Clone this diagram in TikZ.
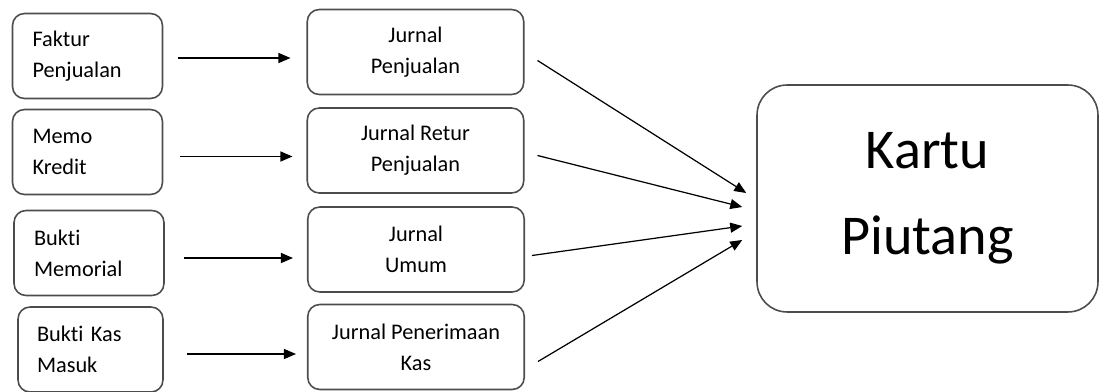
\documentclass[tikz,border=0pt]{standalone}
\usepackage{fontspec}
\setmainfont{Carlito}[RawFeature=-liga]
\usepackage{tikz}
\usetikzlibrary{positioning,arrows.meta}

\begin{document}
\begin{tikzpicture}[x=0.02cm,y=-0.02cm,
    docbox/.style={draw=black!70,line width=0.9pt,rounded corners=0.24cm,align=left,inner xsep=0.4cm,text width=2.2cm,minimum height=1.7cm,font=\fontsize{12.7}{17.6}\selectfont},
    jurnalbox/.style={draw=black!70,line width=0.9pt,rounded corners=0.24cm,align=center,minimum width=4.33cm,minimum height=1.7cm,font=\fontsize{12.7}{17.6}\selectfont}]
            \tikzstyle{arr}=[-{Triangle[length=0.24cm,width=0.2cm]},line width=0.7pt]
            \tikzstyle{kartubox}=[draw=black!70,line width=0.9pt,rounded corners=0.6cm,align=center,minimum width=6.82cm,minimum height=4.54cm,font=\fontsize{32}{48.8}\selectfont]
            \useasboundingbox (0,0) rectangle (1100,392);
            % sumber dokumen
            \node[docbox] (faktur) at (87.5,56) {Faktur\\Penjualan};
            \node[docbox] (memo) at (87.5,152) {Memo\\Kredit};
            \node[docbox] (bmem) at (89,253) {Bukti\\Memorial};
            \node[docbox,text width=2.14cm,inner xsep=0.38cm] (bkas) at (90.5,349.5) {Bukti Kas\\Masuk};
            % jurnal
            \node[jurnalbox] (jpenj) at (415.5,52) {Jurnal\\Penjualan};
            \node[jurnalbox] (jretur) at (415.5,150.5) {Jurnal Retur\\Penjualan};
            \node[jurnalbox] (jumum) at (416,249.5) {Jurnal\\Umum};
            \node[jurnalbox] (jkas) at (416,347) {Jurnal Penerimaan\\Kas};
            % kartu piutang
            \node[kartubox] (kartu) at (927.5,198.5) {Kartu\\Piutang};
            \coordinate (t1) at ([xshift=-0.2cm,yshift=0.11cm]kartu.west);
            \coordinate (t2) at ([xshift=-0.28cm,yshift=-0.17cm]kartu.west);
            \coordinate (t3) at ([xshift=-0.28cm,yshift=-0.55cm]kartu.west);
            \coordinate (t4) at ([xshift=-0.28cm,yshift=-0.83cm]kartu.west);
            \draw[arr] ([xshift=0.3cm,yshift=-0.04cm]faktur.east) -- ([xshift=-0.32cm,yshift=-0.04cm]faktur.east -| jpenj.west);
            \draw[arr] ([xshift=0.34cm,yshift=-0.09cm]memo.east) -- ([xshift=-0.28cm,yshift=-0.09cm]memo.east -| jretur.west);
            \draw[arr] ([xshift=0.38cm,yshift=-0.1cm]bmem.east) -- ([xshift=-0.28cm,yshift=-0.1cm]bmem.east -| jumum.west);
            \draw[arr] ([xshift=0.46cm,yshift=-0.09cm]bkas.east) -- ([xshift=-0.22cm,yshift=-0.09cm]bkas.east -| jkas.west);
            \draw[arr] ([xshift=0.26cm,yshift=-0.17cm]jpenj.east) -- (t1);
            \draw[arr] ([xshift=0.26cm,yshift=-0.1cm]jretur.east) -- (t2);
            \draw[arr] ([xshift=0.14cm,yshift=-0.12cm]jumum.east) -- (t3);
            \draw[arr] ([xshift=0.26cm,yshift=-0.29cm]jkas.east) -- (t4);
          \end{tikzpicture}
\end{document}
